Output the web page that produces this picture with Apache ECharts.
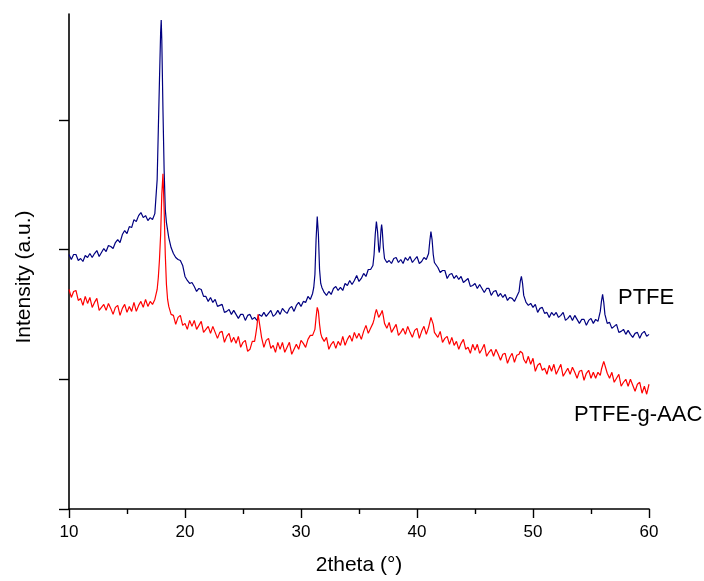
<!DOCTYPE html>
<html>
<head>
<meta charset="utf-8">
<script src="https://cdn.jsdelivr.net/npm/echarts@6/dist/echarts.min.js"></script>
<style>html,body{margin:0;padding:0;background:#fff}#c{width:704px;height:581px}</style>
</head>
<body>
<div id="c"></div>
<script>
const xTicks = [10, 20, 30, 40, 50, 60];
const seriesNames = ['PTFE', 'PTFE-g-AAC'];
const ptfe = [
[10.0,255],[10.2,250],[10.4,255],[10.6,255],[10.8,249],[11.0,251],[11.2,248],[11.4,254],[11.6,252],[11.8,256],
[12.0,252],[12.2,256],[12.4,259],[12.6,253],[12.8,257],[13.0,261],[13.2,258],[13.4,264],[13.6,263],[13.8,261],
[14.0,267],[14.2,270],[14.4,267],[14.6,275],[14.8,279],[15.0,276],[15.2,283],[15.4,282],[15.6,290],[15.8,288],
[16.0,294],[16.2,297],[16.4,292],[16.6,294],[16.8,289],[17.0,292],[17.2,290],[17.4,296],[17.6,330],[17.7,380],
[17.8,430],[17.9,478],[17.95,490],[18.0,470],[18.1,400],[18.2,340],[18.3,300],[18.4,287],[18.6,272],[18.8,262],
[19.0,256],[19.2,252],[19.4,250],[19.6,249],[19.8,244],[20.0,233],[20.2,229],[20.4,226],[20.6,227],[20.8,223],
[21.0,218],[21.2,221],[21.4,220],[21.6,213],[21.8,213],[22.0,208],[22.2,212],[22.4,207],[22.6,210],[22.8,203],
[23.0,204],[23.2,205],[23.4,197],[23.6,198],[23.8,200],[24.0,195],[24.2,199],[24.4,195],[24.6,191],[24.8,195],
[25.0,195],[25.2,189],[25.4,194],[25.6,195],[25.8,190],[26.0,192],[26.2,189],[26.4,195],[26.6,193],[26.8,197],
[27.0,193],[27.2,196],[27.4,199],[27.6,193],[27.8,195],[28.0,199],[28.2,195],[28.4,201],[28.6,198],[28.8,196],
[29.0,201],[29.2,203],[29.4,198],[29.6,204],[29.8,207],[30.0,203],[30.2,208],[30.4,207],[30.6,213],[30.8,210],
[31.0,216],[31.1,222],[31.2,235],[31.3,270],[31.4,293],[31.5,275],[31.6,240],[31.7,226],[31.8,222],[32.0,217],
[32.2,214],[32.4,218],[32.6,215],[32.8,221],[33.0,223],[33.2,219],[33.4,222],[33.6,219],[33.8,226],[34.0,224],
[34.2,229],[34.4,225],[34.6,229],[34.8,234],[35.0,228],[35.2,231],[35.4,236],[35.6,233],[35.8,240],[36.0,240],
[36.2,244],[36.3,255],[36.4,275],[36.5,288],[36.6,278],[36.7,260],[36.75,257],[36.8,262],[36.9,280],[36.95,285],
[37.0,280],[37.1,262],[37.2,251],[37.4,247],[37.6,249],[37.8,246],[38.0,251],[38.2,252],[38.4,247],[38.6,250],
[38.8,246],[39.0,252],[39.2,249],[39.4,253],[39.6,247],[39.8,250],[40.0,253],[40.2,246],[40.4,248],[40.6,252],
[40.8,250],[41.0,256],[41.1,268],[41.2,278],[41.3,270],[41.4,255],[41.5,247],[41.6,248],[41.8,242],[42.0,237],
[42.2,239],[42.4,239],[42.6,231],[42.8,235],[43.0,236],[43.2,231],[43.4,234],[43.6,230],[43.8,233],[44.0,227],
[44.2,229],[44.4,231],[44.6,223],[44.8,224],[45.0,226],[45.2,221],[45.4,225],[45.6,221],[45.8,217],[46.0,221],
[46.2,221],[46.4,214],[46.6,218],[46.8,219],[47.0,213],[47.2,216],[47.4,212],[47.6,215],[47.8,209],[48.0,212],
[48.2,211],[48.4,208],[48.6,213],[48.8,218],[48.9,228],[49.0,233],[49.1,226],[49.2,214],[49.4,207],[49.6,204],
[49.8,206],[50.0,202],[50.2,205],[50.4,197],[50.6,201],[50.8,202],[51.0,196],[51.2,197],[51.4,192],[51.6,197],
[51.8,194],[52.0,197],[52.2,192],[52.4,194],[52.6,197],[52.8,189],[53.0,191],[53.2,194],[53.4,189],[53.6,194],
[53.8,190],[54.0,186],[54.2,190],[54.4,190],[54.6,184],[54.8,189],[55.0,191],[55.2,186],[55.4,190],[55.6,188],
[55.8,198],[55.9,208],[56.0,215],[56.1,207],[56.2,195],[56.4,186],[56.6,187],[56.8,181],[57.0,183],[57.2,185],
[57.4,177],[57.6,178],[57.8,180],[58.0,175],[58.2,179],[58.4,175],[58.6,172],[58.8,176],[59.0,177],[59.2,171],
[59.4,176],[59.6,178],[59.8,173],[60.0,175]
];
const ptfeAac = [
[10.0,220],[10.2,212],[10.4,218],[10.6,219],[10.8,209],[11.0,211],[11.2,204],[11.4,213],[11.6,206],[11.8,212],
[12.0,202],[12.2,207],[12.4,211],[12.6,199],[12.8,202],[13.0,205],[13.2,199],[13.4,206],[13.6,201],[13.8,195],
[14.0,202],[14.2,204],[14.4,194],[14.6,201],[14.8,205],[15.0,197],[15.2,203],[15.4,198],[15.6,207],[15.8,198],
[16.0,204],[16.2,208],[16.4,202],[16.6,210],[16.8,203],[17.0,208],[17.2,205],[17.4,210],[17.6,220],[17.7,232],
[17.8,250],[17.9,275],[18.0,315],[18.1,336],[18.2,300],[18.3,255],[18.4,225],[18.5,210],[18.6,203],[18.8,195],
[19.0,194],[19.2,185],[19.4,192],[19.6,194],[19.8,184],[20.0,186],[20.2,180],[20.4,189],[20.6,183],[20.8,189],
[21.0,180],[21.2,184],[21.4,188],[21.6,177],[21.8,180],[22.0,183],[22.2,176],[22.4,183],[22.6,177],[22.8,171],
[23.0,177],[23.2,178],[23.4,167],[23.6,173],[23.8,176],[24.0,167],[24.2,172],[24.4,166],[24.6,173],[24.8,162],
[25.0,167],[25.2,169],[25.4,158],[25.6,160],[25.8,168],[26.0,168],[26.1,175],[26.2,183],[26.3,195],[26.4,193],
[26.5,180],[26.6,172],[26.8,162],[27.0,169],[27.2,171],[27.4,161],[27.6,164],[27.8,157],[28.0,167],[28.2,160],
[28.4,167],[28.6,157],[28.8,162],[29.0,167],[29.2,155],[29.4,160],[29.6,165],[29.8,160],[30.0,169],[30.2,166],
[30.4,162],[30.6,170],[30.8,174],[31.0,174],[31.1,176],[31.2,180],[31.3,192],[31.4,202],[31.5,198],[31.6,185],
[31.7,176],[31.8,172],[32.0,168],[32.2,172],[32.4,160],[32.6,165],[32.8,168],[33.0,161],[33.2,168],[33.4,164],
[33.6,173],[33.8,164],[34.0,170],[34.2,174],[34.4,168],[34.6,177],[34.8,171],[35.0,176],[35.2,170],[35.4,178],
[35.6,184],[35.8,176],[36.0,181],[36.2,186],[36.3,190],[36.4,196],[36.5,200],[36.6,198],[36.7,192],[36.8,190],
[36.9,196],[37.0,199],[37.1,193],[37.2,186],[37.4,181],[37.6,187],[37.8,177],[38.0,181],[38.2,185],[38.4,174],
[38.6,177],[38.8,181],[39.0,175],[39.2,183],[39.4,177],[39.6,172],[39.8,179],[40.0,181],[40.2,171],[40.4,178],
[40.6,183],[40.8,175],[41.0,182],[41.1,187],[41.2,192],[41.3,193],[41.4,185],[41.5,177],[41.6,178],[41.8,172],
[42.0,178],[42.2,167],[42.4,171],[42.6,173],[42.8,165],[43.0,172],[43.2,164],[43.4,168],[43.6,160],[43.8,166],
[44.0,170],[44.2,160],[44.4,162],[44.6,156],[44.8,165],[45.0,159],[45.2,165],[45.4,156],[45.6,160],[45.8,165],
[46.0,153],[46.2,157],[46.4,160],[46.6,153],[46.8,160],[47.0,155],[47.2,149],[47.4,155],[47.6,156],[47.8,146],
[48.0,152],[48.2,156],[48.4,147],[48.6,154],[48.8,155],[48.9,158],[49.0,160],[49.1,156],[49.2,150],[49.4,146],
[49.6,153],[49.8,145],[50.0,151],[50.2,138],[50.4,144],[50.6,146],[50.8,139],[51.0,141],[51.2,135],[51.4,144],
[51.6,138],[51.8,145],[52.0,135],[52.2,140],[52.4,145],[52.6,133],[52.8,137],[53.0,141],[53.2,135],[53.4,142],
[53.6,137],[53.8,131],[54.0,138],[54.2,139],[54.4,129],[54.6,136],[54.8,139],[55.0,131],[55.2,137],[55.4,131],
[55.6,137],[55.8,134],[55.9,140],[56.0,144],[56.1,148],[56.2,146],[56.3,140],[56.4,136],[56.6,131],[56.8,137],
[57.0,127],[57.2,131],[57.4,135],[57.6,123],[57.8,127],[58.0,130],[58.2,123],[58.4,130],[58.6,124],[58.8,118],
[59.0,125],[59.2,127],[59.4,116],[59.6,123],[59.8,115],[60.0,125]
];
const yTickValues = [0, 130, 260, 390];

const FONT = '"Liberation Sans", Arial, sans-serif';
const chart = echarts.init(document.getElementById('c'), null, {renderer: 'canvas'});
chart.setOption({
  animation: false,
  backgroundColor: '#fff',
  grid: {left: 69, right: 55, top: 14, bottom: 71, containLabel: false},
  xAxis: {
    type: 'value', min: xTicks[0], max: xTicks[xTicks.length - 1], interval: 10,
    name: '2theta (°)', nameLocation: 'middle', nameGap: 46,
    nameTextStyle: {fontFamily: FONT, fontSize: 21, color: '#000'},
    axisLine: {show: true, onZero: false, lineStyle: {color: '#000', width: 1.6}},
    axisTick: {show: true, inside: false, length: 9, lineStyle: {color: '#000', width: 1.4}},
    minorTick: {show: true, splitNumber: 2, length: 5, lineStyle: {color: '#000', width: 1.4}},
    axisLabel: {fontFamily: FONT, fontSize: 17, color: '#000', margin: 15},
    splitLine: {show: false}, minorSplitLine: {show: false}
  },
  yAxis: {
    type: 'value', min: 0, max: 496, interval: 130,
    axisLine: {show: true, onZero: false, lineStyle: {color: '#000', width: 1.6}},
    axisTick: {show: true, inside: false, length: 10, customValues: yTickValues, lineStyle: {color: '#000', width: 1.4}},
    axisLabel: {show: false},
    splitLine: {show: false}
  },
  series: [
    {name: seriesNames[0], type: 'line', data: ptfe, showSymbol: false, symbol: 'none',
     lineStyle: {color: '#000080', width: 1.2}, itemStyle: {color: '#000080'}},
    {name: seriesNames[1], type: 'line', data: ptfeAac, showSymbol: false, symbol: 'none',
     lineStyle: {color: '#ff0000', width: 1.2}, itemStyle: {color: '#ff0000'}}
  ],
  graphic: [
    {type: 'text', left: 618, top: 287, style: {text: seriesNames[0], font: '22px ' + FONT, fill: '#000'}},
    {type: 'text', left: 574, top: 404, style: {text: seriesNames[1], font: '22px ' + FONT, fill: '#000'}},
    {type: 'text', x: 24, y: 277, rotation: Math.PI / 2,
     style: {text: 'Intensity (a.u.)', font: '21px ' + FONT, fill: '#000', align: 'center', verticalAlign: 'middle'}}
  ]
});
</script>
</body>
</html>
